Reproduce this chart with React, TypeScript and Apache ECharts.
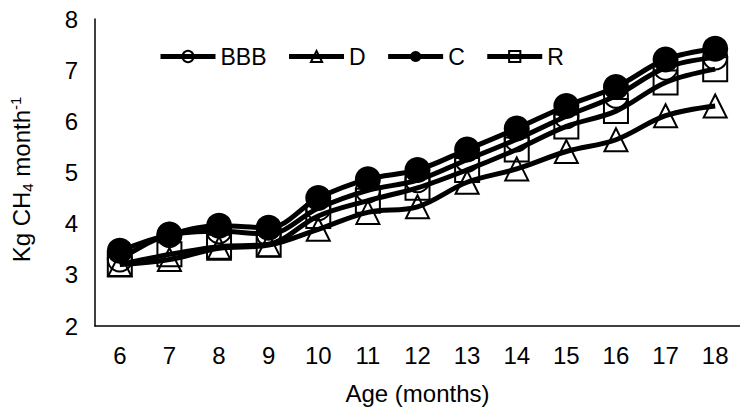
import React, { useEffect, useRef } from "react";
import * as echarts from "echarts";

const categories = ["6", "7", "8", "9", "10", "11", "12", "13", "14", "15", "16", "17", "18"];
const seriesNames = ["BBB", "D", "C", "R"];
const bbbValues = [3.3, 3.78, 3.85, 3.8, 4.3, 4.65, 4.85, 5.25, 5.65, 6.1, 6.5, 7.05, 7.25];
const dValues = [3.2, 3.3, 3.52, 3.58, 3.89, 4.22, 4.33, 4.81, 5.07, 5.41, 5.64, 6.11, 6.3];
const cValues = [3.47, 3.79, 3.96, 3.92, 4.5, 4.87, 5.05, 5.45, 5.86, 6.3, 6.67, 7.21, 7.42];
const rValues = [3.2, 3.4, 3.55, 3.6, 4.15, 4.45, 4.7, 5.05, 5.45, 5.9, 6.2, 6.76, 7.02];
const yTicks = { min: 2, max: 8, interval: 1 };

const FONT = "'Liberation Sans', Arial, sans-serif";

export default function App() {
  const ref = useRef<HTMLDivElement>(null);
  useEffect(() => {
    if (!ref.current) return;
    const chart = echarts.init(ref.current, null, { renderer: "svg" });
    const mk = (name: string, data: number[], symbol: string, size: number, filled: boolean, z: number) => ({
      name,
      type: "line",
      data,
      smooth: 0.35,
      symbol,
      symbolSize: size,
      z,
      lineStyle: { color: "#000", width: 5 },
      itemStyle: {
        color: filled ? "#000" : "rgba(255,255,255,0)",
        borderColor: "#000",
        borderWidth: filled ? 0 : 2,
      },
    });
    chart.setOption({
      animation: false,
      textStyle: { fontFamily: FONT },
      grid: { left: 93, right: -8, top: 19, bottom: 80 },
      legend: {
        data: seriesNames,
        left: 153,
        top: 40,
        itemWidth: 55,
        itemHeight: 14,
        itemGap: 20,
        lineStyle: { width: 5, color: "#000" },
        textStyle: { fontFamily: FONT, fontSize: 23, color: "#000" },
      },
      xAxis: {
        type: "category",
        data: categories,
        boundaryGap: true,
        name: "Age (months)",
        nameLocation: "middle",
        nameGap: 55,
        nameTextStyle: { fontFamily: FONT, fontSize: 24, color: "#000" },
        axisLine: { lineStyle: { color: "#000", width: 1.5 } },
        axisTick: { show: false },
        axisLabel: { fontFamily: FONT, fontSize: 24, color: "#000", margin: 17 },
      },
      yAxis: {
        type: "value",
        min: yTicks.min,
        max: yTicks.max,
        interval: yTicks.interval,
        name: "{a|Kg CH}{sub|4}{a| month}{sup|-1}",
        nameLocation: "middle",
        nameRotate: 90,
        nameGap: 60,
        nameTextStyle: {
          padding: [0, 14, 0, 0],
          rich: {
            a: { fontFamily: FONT, fontSize: 24, color: "#000" },
            sub: { fontFamily: FONT, fontSize: 15, color: "#000", padding: [11, 0, 0, 0] },
            sup: { fontFamily: FONT, fontSize: 15, color: "#000", padding: [0, 0, 12, 0] },
          },
        },
        splitLine: { show: false },
        axisLine: { show: true, lineStyle: { color: "#000", width: 1.5 } },
        axisTick: { show: false },
        axisLabel: { fontFamily: FONT, fontSize: 24, color: "#000", margin: 17 },
      },
      series: [
        mk("BBB", bbbValues, "circle", 24, false, 2),
        mk("D", dValues, "triangle", 23, false, 3),
        mk("R", rValues, "rect", 24, false, 4),
        mk("C", cValues, "circle", 26, true, 5),
      ],
    });
    return () => chart.dispose();
  }, []);
  return <div ref={ref} style={{ width: 740, height: 410, position: "absolute", left: 0, top: 0 }} />;
}
